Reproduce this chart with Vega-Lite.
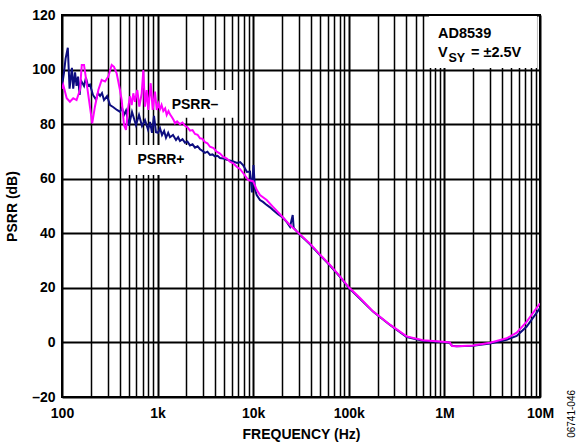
{
  "$schema": "https://vega.github.io/schema/vega-lite/v6.json",
  "width": 478,
  "height": 382,
  "autosize": {"type": "none"},
  "padding": {"left": 62, "top": 15, "right": 38, "bottom": 47},
  "background": "white",
  "config": {
    "font": "Liberation Sans",
    "view": {"stroke": "black", "strokeWidth": 2},
    "axis": {
      "labelFont": "Liberation Sans",
      "labelFontWeight": "bold",
      "labelFontSize": 14,
      "labelColor": "black",
      "titleFont": "Liberation Sans",
      "titleFontWeight": "bold",
      "titleFontSize": 14,
      "titleColor": "black",
      "domain": false,
      "ticks": false,
      "tickSize": 0,
      "gridColor": "black",
      "gridOpacity": 1
    }
  },
  "datasets": {
    "psrr": [
      {"series": "PSRR+", "f": 100, "db": 94},
      {"series": "PSRR+", "f": 105, "db": 99},
      {"series": "PSRR+", "f": 109, "db": 104},
      {"series": "PSRR+", "f": 115, "db": 108},
      {"series": "PSRR+", "f": 120, "db": 93},
      {"series": "PSRR+", "f": 127, "db": 100.6},
      {"series": "PSRR+", "f": 131, "db": 93},
      {"series": "PSRR+", "f": 137, "db": 99},
      {"series": "PSRR+", "f": 142, "db": 94},
      {"series": "PSRR+", "f": 147, "db": 97.4},
      {"series": "PSRR+", "f": 153, "db": 90.7},
      {"series": "PSRR+", "f": 158, "db": 96},
      {"series": "PSRR+", "f": 170, "db": 94},
      {"series": "PSRR+", "f": 178, "db": 97},
      {"series": "PSRR+", "f": 187, "db": 94},
      {"series": "PSRR+", "f": 196, "db": 94.5},
      {"series": "PSRR+", "f": 211, "db": 90.7},
      {"series": "PSRR+", "f": 227, "db": 89},
      {"series": "PSRR+", "f": 238, "db": 91.4},
      {"series": "PSRR+", "f": 250, "db": 90.3},
      {"series": "PSRR+", "f": 262, "db": 91.4},
      {"series": "PSRR+", "f": 275, "db": 88.8},
      {"series": "PSRR+", "f": 296, "db": 90.3},
      {"series": "PSRR+", "f": 318, "db": 87},
      {"series": "PSRR+", "f": 342, "db": 86.3},
      {"series": "PSRR+", "f": 376, "db": 85.2},
      {"series": "PSRR+", "f": 404, "db": 84.5},
      {"series": "PSRR+", "f": 424, "db": 86},
      {"series": "PSRR+", "f": 445, "db": 83.4},
      {"series": "PSRR+", "f": 467, "db": 85},
      {"series": "PSRR+", "f": 502, "db": 79.5},
      {"series": "PSRR+", "f": 540, "db": 84.5},
      {"series": "PSRR+", "f": 594, "db": 79.7},
      {"series": "PSRR+", "f": 639, "db": 83.4},
      {"series": "PSRR+", "f": 687, "db": 79.3},
      {"series": "PSRR+", "f": 738, "db": 81.5},
      {"series": "PSRR+", "f": 794, "db": 78},
      {"series": "PSRR+", "f": 833, "db": 80.8},
      {"series": "PSRR+", "f": 874, "db": 76.8},
      {"series": "PSRR+", "f": 917, "db": 83},
      {"series": "PSRR+", "f": 962, "db": 77},
      {"series": "PSRR+", "f": 1010, "db": 76.8},
      {"series": "PSRR+", "f": 1060, "db": 78.5},
      {"series": "PSRR+", "f": 1112, "db": 76},
      {"series": "PSRR+", "f": 1170, "db": 77.5},
      {"series": "PSRR+", "f": 1224, "db": 75},
      {"series": "PSRR+", "f": 1290, "db": 76.8},
      {"series": "PSRR+", "f": 1348, "db": 75.2},
      {"series": "PSRR+", "f": 1449, "db": 76},
      {"series": "PSRR+", "f": 1558, "db": 74.2},
      {"series": "PSRR+", "f": 1640, "db": 75.2},
      {"series": "PSRR+", "f": 1715, "db": 73.8},
      {"series": "PSRR+", "f": 1820, "db": 74.5},
      {"series": "PSRR+", "f": 1934, "db": 73.2},
      {"series": "PSRR+", "f": 2050, "db": 73.6},
      {"series": "PSRR+", "f": 2183, "db": 72.2},
      {"series": "PSRR+", "f": 2320, "db": 72.6},
      {"series": "PSRR+", "f": 2462, "db": 71.4},
      {"series": "PSRR+", "f": 2620, "db": 71.9},
      {"series": "PSRR+", "f": 2777, "db": 70.8},
      {"series": "PSRR+", "f": 2950, "db": 70.2},
      {"series": "PSRR+", "f": 3132, "db": 69.5},
      {"series": "PSRR+", "f": 3320, "db": 69.9},
      {"series": "PSRR+", "f": 3533, "db": 68.7},
      {"series": "PSRR+", "f": 3750, "db": 68.9},
      {"series": "PSRR+", "f": 3986, "db": 68.2},
      {"series": "PSRR+", "f": 4240, "db": 68.4},
      {"series": "PSRR+", "f": 4496, "db": 67.6},
      {"series": "PSRR+", "f": 4900, "db": 67.4},
      {"series": "PSRR+", "f": 5320, "db": 66.9},
      {"series": "PSRR+", "f": 6000, "db": 66.5},
      {"series": "PSRR+", "f": 6770, "db": 65.8},
      {"series": "PSRR+", "f": 7300, "db": 66.1},
      {"series": "PSRR+", "f": 7823, "db": 65},
      {"series": "PSRR+", "f": 8612, "db": 62.5},
      {"series": "PSRR+", "f": 9258, "db": 62.6},
      {"series": "PSRR+", "f": 9714, "db": 55},
      {"series": "PSRR+", "f": 10070, "db": 65},
      {"series": "PSRR+", "f": 10440, "db": 56},
      {"series": "PSRR+", "f": 10880, "db": 54},
      {"series": "PSRR+", "f": 11780, "db": 52.2},
      {"series": "PSRR+", "f": 12660, "db": 51.5},
      {"series": "PSRR+", "f": 13840, "db": 50.4},
      {"series": "PSRR+", "f": 14990, "db": 49.5},
      {"series": "PSRR+", "f": 16110, "db": 48.5},
      {"series": "PSRR+", "f": 18170, "db": 47},
      {"series": "PSRR+", "f": 20650, "db": 45.6},
      {"series": "PSRR+", "f": 22570, "db": 44},
      {"series": "PSRR+", "f": 24260, "db": 42.4},
      {"series": "PSRR+", "f": 25900, "db": 46.7},
      {"series": "PSRR+", "f": 26520, "db": 42},
      {"series": "PSRR+", "f": 30870, "db": 39.4},
      {"series": "PSRR+", "f": 39280, "db": 36},
      {"series": "PSRR+", "f": 49960, "db": 32},
      {"series": "PSRR+", "f": 63580, "db": 28.2},
      {"series": "PSRR+", "f": 80900, "db": 24},
      {"series": "PSRR+", "f": 100000, "db": 20},
      {"series": "PSRR+", "f": 131000, "db": 16},
      {"series": "PSRR+", "f": 179100, "db": 11.3},
      {"series": "PSRR+", "f": 269800, "db": 6.4},
      {"series": "PSRR+", "f": 403300, "db": 2},
      {"series": "PSRR+", "f": 597300, "db": 0.6},
      {"series": "PSRR+", "f": 899500, "db": 0.2},
      {"series": "PSRR+", "f": 1091000, "db": 0},
      {"series": "PSRR+", "f": 1144000, "db": -0.3},
      {"series": "PSRR+", "f": 1200000, "db": -1.2},
      {"series": "PSRR+", "f": 1345000, "db": -1.4},
      {"series": "PSRR+", "f": 1992000, "db": -1.2},
      {"series": "PSRR+", "f": 2999000, "db": -0.4},
      {"series": "PSRR+", "f": 4484000, "db": 1},
      {"series": "PSRR+", "f": 5705000, "db": 2.4},
      {"series": "PSRR+", "f": 7260000, "db": 5.8},
      {"series": "PSRR+", "f": 10000000, "db": 12.6},

      {"series": "PSRR–", "f": 100, "db": 93},
      {"series": "PSRR–", "f": 103, "db": 94.4},
      {"series": "PSRR–", "f": 112, "db": 89.5},
      {"series": "PSRR–", "f": 121, "db": 88.2},
      {"series": "PSRR–", "f": 131, "db": 89.5},
      {"series": "PSRR–", "f": 142, "db": 88.8},
      {"series": "PSRR–", "f": 154, "db": 92.5},
      {"series": "PSRR–", "f": 161, "db": 101.7},
      {"series": "PSRR–", "f": 170, "db": 101.7},
      {"series": "PSRR–", "f": 181, "db": 95},
      {"series": "PSRR–", "f": 196, "db": 86.4},
      {"series": "PSRR–", "f": 207, "db": 80.3},
      {"series": "PSRR–", "f": 221, "db": 86.4},
      {"series": "PSRR–", "f": 240, "db": 92.5},
      {"series": "PSRR–", "f": 260, "db": 96.2},
      {"series": "PSRR–", "f": 282, "db": 95.6},
      {"series": "PSRR–", "f": 305, "db": 97.4},
      {"series": "PSRR–", "f": 331, "db": 101.7},
      {"series": "PSRR–", "f": 350, "db": 101},
      {"series": "PSRR–", "f": 373, "db": 98.6},
      {"series": "PSRR–", "f": 404, "db": 92.5},
      {"series": "PSRR–", "f": 421, "db": 88.8},
      {"series": "PSRR–", "f": 445, "db": 79.7},
      {"series": "PSRR–", "f": 467, "db": 77.9},
      {"series": "PSRR–", "f": 494, "db": 86.4},
      {"series": "PSRR–", "f": 514, "db": 90.2},
      {"series": "PSRR–", "f": 536, "db": 87},
      {"series": "PSRR–", "f": 557, "db": 91.3},
      {"series": "PSRR–", "f": 580, "db": 88.2},
      {"series": "PSRR–", "f": 613, "db": 92.5},
      {"series": "PSRR–", "f": 644, "db": 86.4},
      {"series": "PSRR–", "f": 682, "db": 91.3},
      {"series": "PSRR–", "f": 709, "db": 99.8},
      {"series": "PSRR–", "f": 738, "db": 86.4},
      {"series": "PSRR–", "f": 769, "db": 92.5},
      {"series": "PSRR–", "f": 799, "db": 85.2},
      {"series": "PSRR–", "f": 847, "db": 95},
      {"series": "PSRR–", "f": 889, "db": 85.2},
      {"series": "PSRR–", "f": 939, "db": 91.9},
      {"series": "PSRR–", "f": 979, "db": 85.2},
      {"series": "PSRR–", "f": 1020, "db": 87.5},
      {"series": "PSRR–", "f": 1060, "db": 85.5},
      {"series": "PSRR–", "f": 1100, "db": 87},
      {"series": "PSRR–", "f": 1147, "db": 84.8},
      {"series": "PSRR–", "f": 1200, "db": 85.8},
      {"series": "PSRR–", "f": 1245, "db": 83.4},
      {"series": "PSRR–", "f": 1300, "db": 84.8},
      {"series": "PSRR–", "f": 1348, "db": 83.6},
      {"series": "PSRR–", "f": 1414, "db": 82.5},
      {"series": "PSRR–", "f": 1470, "db": 81.5},
      {"series": "PSRR–", "f": 1522, "db": 80.3},
      {"series": "PSRR–", "f": 1600, "db": 81},
      {"series": "PSRR–", "f": 1715, "db": 80},
      {"series": "PSRR–", "f": 1820, "db": 80.6},
      {"series": "PSRR–", "f": 1934, "db": 79.4},
      {"series": "PSRR–", "f": 2050, "db": 78.9},
      {"series": "PSRR–", "f": 2183, "db": 77.6},
      {"series": "PSRR–", "f": 2320, "db": 77.8},
      {"series": "PSRR–", "f": 2462, "db": 76.4},
      {"series": "PSRR–", "f": 2620, "db": 76.1},
      {"series": "PSRR–", "f": 2777, "db": 74.8},
      {"series": "PSRR–", "f": 2950, "db": 74.6},
      {"series": "PSRR–", "f": 3132, "db": 73.4},
      {"series": "PSRR–", "f": 3320, "db": 73},
      {"series": "PSRR–", "f": 3533, "db": 71.7},
      {"series": "PSRR–", "f": 3850, "db": 71.2},
      {"series": "PSRR–", "f": 4151, "db": 69.9},
      {"series": "PSRR–", "f": 4500, "db": 69.2},
      {"series": "PSRR–", "f": 4866, "db": 68},
      {"series": "PSRR–", "f": 5300, "db": 67.4},
      {"series": "PSRR–", "f": 5718, "db": 66.2},
      {"series": "PSRR–", "f": 6200, "db": 65.6},
      {"series": "PSRR–", "f": 6721, "db": 64.4},
      {"series": "PSRR–", "f": 7300, "db": 63.5},
      {"series": "PSRR–", "f": 7877, "db": 62},
      {"series": "PSRR–", "f": 8886, "db": 59.5},
      {"series": "PSRR–", "f": 10020, "db": 59},
      {"series": "PSRR–", "f": 10880, "db": 55.9},
      {"series": "PSRR–", "f": 11780, "db": 54},
      {"series": "PSRR–", "f": 13840, "db": 52.2},
      {"series": "PSRR–", "f": 16110, "db": 49.7},
      {"series": "PSRR–", "f": 19070, "db": 47},
      {"series": "PSRR–", "f": 24260, "db": 43},
      {"series": "PSRR–", "f": 30870, "db": 39.6},
      {"series": "PSRR–", "f": 39280, "db": 36.2},
      {"series": "PSRR–", "f": 49960, "db": 32.2},
      {"series": "PSRR–", "f": 63580, "db": 28.4},
      {"series": "PSRR–", "f": 80900, "db": 24.2},
      {"series": "PSRR–", "f": 100000, "db": 20.2},
      {"series": "PSRR–", "f": 131000, "db": 16.3},
      {"series": "PSRR–", "f": 179100, "db": 11.4},
      {"series": "PSRR–", "f": 269800, "db": 6.5},
      {"series": "PSRR–", "f": 403300, "db": 2.2},
      {"series": "PSRR–", "f": 597300, "db": 0.8},
      {"series": "PSRR–", "f": 899500, "db": 0.3},
      {"series": "PSRR–", "f": 1091000, "db": 0.1},
      {"series": "PSRR–", "f": 1144000, "db": 0},
      {"series": "PSRR–", "f": 1200000, "db": -1.3},
      {"series": "PSRR–", "f": 1345000, "db": -1.4},
      {"series": "PSRR–", "f": 1992000, "db": -1.1},
      {"series": "PSRR–", "f": 2999000, "db": -0.1},
      {"series": "PSRR–", "f": 4484000, "db": 1.5},
      {"series": "PSRR–", "f": 5705000, "db": 3.6},
      {"series": "PSRR–", "f": 7260000, "db": 7.6},
      {"series": "PSRR–", "f": 10000000, "db": 14.3}
    ],
    "one": [{"k": 1}]
  },
  "layer": [
    {
      "data": {"name": "psrr"},
      "transform": [{"filter": "datum.series == 'PSRR+'"}],
      "mark": {"type": "line", "color": "#0d0d80", "strokeWidth": 2, "strokeOpacity": 0, "clip": true},
      "encoding": {
        "x": {
          "field": "f",
          "type": "quantitative",
          "scale": {"type": "log", "domain": [100, 10000000], "nice": false},
          "axis": {
            "title": "FREQUENCY (Hz)",
            "titleBaseline": "alphabetic",
            "titleY": 41,
            "values": [100,200,300,400,500,600,700,800,900,1000,2000,3000,4000,5000,6000,7000,8000,9000,10000,20000,30000,40000,50000,60000,70000,80000,90000,100000,200000,300000,400000,500000,600000,700000,800000,900000,1000000,2000000,3000000,4000000,5000000,6000000,7000000,8000000,9000000,10000000],
            "labelExpr": "datum.value==100?'100':datum.value==1000?'1k':datum.value==10000?'10k':datum.value==100000?'100k':datum.value==1000000?'1M':datum.value==10000000?'10M':''",
            "labelOverlap": false,
            "labelBound": false,
            "labelFlush": false,
            "labelBaseline": "alphabetic",
            "labelPadding": 20.5,
            "grid": true,
            "gridWidth": {"condition": {"test": "indexof([100,1000,10000,100000,1000000,10000000], datum.value) >= 0", "value": 2}, "value": 1.5}
          }
        },
        "y": {
          "field": "db",
          "type": "quantitative",
          "scale": {"domain": [-20, 120], "nice": false, "zero": false},
          "axis": {
            "title": "PSRR (dB)",
            "titleX": -50,
            "titleY": 191,
            "titleAlign": "center",
            "titleBaseline": "middle",
            "titleAngle": 270,
            "values": [-20, 0, 20, 40, 60, 80, 100, 120],
            "labelExpr": "datum.value < 0 ? '\u2013' + abs(datum.value) : '' + datum.value",
            "labelPadding": 7,
            "labelBaseline": "middle",
            "grid": true,
            "gridWidth": 2
          }
        }
      }
    },
    {
      "data": {"name": "one"},
      "mark": {"type": "rect", "fill": "white"},
      "encoding": {
        "x": {"datum": 690000, "type": "quantitative"},
        "x2": {"datum": 9300000},
        "y": {"datum": 119.6, "type": "quantitative"},
        "y2": {"datum": 100.6}
      }
    },
    {
      "data": {"name": "one"},
      "mark": {"type": "rect", "fill": "white"},
      "encoding": {
        "x": {"datum": 1195, "type": "quantitative"},
        "x2": {"datum": 6449},
        "y": {"datum": 92.5, "type": "quantitative"},
        "y2": {"datum": 82.3}
      }
    },
    {
      "data": {"name": "one"},
      "mark": {"type": "rect", "fill": "white"},
      "encoding": {
        "x": {"datum": 424, "type": "quantitative"},
        "x2": {"datum": 2777},
        "y": {"datum": 72.4, "type": "quantitative"},
        "y2": {"datum": 61.4}
      }
    },
    {
      "data": {"name": "psrr"},
      "transform": [{"filter": "datum.series == 'PSRR+'"}],
      "mark": {"type": "line", "color": "#0d0d80", "strokeWidth": 2, "clip": true},
      "encoding": {
        "x": {"field": "f", "type": "quantitative"},
        "y": {"field": "db", "type": "quantitative"}
      }
    },
    {
      "data": {"name": "psrr"},
      "transform": [{"filter": "datum.series == 'PSRR–'"}],
      "mark": {"type": "line", "color": "#ff00ff", "strokeWidth": 2, "clip": true},
      "encoding": {
        "x": {"field": "f", "type": "quantitative"},
        "y": {"field": "db", "type": "quantitative"}
      }
    },
    {
      "data": {"name": "one"},
      "mark": {"type": "text", "text": "PSRR–", "font": "Liberation Sans", "fontWeight": "bold", "fontSize": 14, "align": "center", "baseline": "middle", "color": "black"},
      "encoding": {"x": {"datum": 2460, "type": "quantitative"}, "y": {"datum": 87, "type": "quantitative"}}
    },
    {
      "data": {"name": "one"},
      "mark": {"type": "text", "text": "PSRR+", "font": "Liberation Sans", "fontWeight": "bold", "fontSize": 14, "align": "center", "baseline": "middle", "color": "black"},
      "encoding": {"x": {"datum": 1085, "type": "quantitative"}, "y": {"datum": 66.9, "type": "quantitative"}}
    },
    {
      "data": {"name": "one"},
      "mark": {"type": "text", "text": "AD8539", "font": "Liberation Sans", "fontWeight": "bold", "fontSize": 14.5, "align": "left", "baseline": "alphabetic", "color": "black"},
      "encoding": {"x": {"datum": 857000, "type": "quantitative"}, "y": {"datum": 111.5, "type": "quantitative"}}
    },
    {
      "data": {"name": "one"},
      "mark": {"type": "text", "text": "V", "font": "Liberation Sans", "fontWeight": "bold", "fontSize": 14.5, "align": "left", "baseline": "alphabetic", "color": "black"},
      "encoding": {"x": {"datum": 857000, "type": "quantitative"}, "y": {"datum": 104.7, "type": "quantitative"}}
    },
    {
      "data": {"name": "one"},
      "mark": {"type": "text", "text": "SY", "font": "Liberation Sans", "fontWeight": "bold", "fontSize": 12.5, "align": "left", "baseline": "alphabetic", "color": "black"},
      "encoding": {"x": {"datum": 1104000, "type": "quantitative"}, "y": {"datum": 102.9, "type": "quantitative"}}
    },
    {
      "data": {"name": "one"},
      "mark": {"type": "text", "text": "= ±2.5V", "font": "Liberation Sans", "fontWeight": "bold", "fontSize": 14.5, "align": "left", "baseline": "alphabetic", "color": "black"},
      "encoding": {"x": {"datum": 1898000, "type": "quantitative"}, "y": {"datum": 104.7, "type": "quantitative"}}
    },
    {
      "data": {"name": "one"},
      "mark": {"type": "text", "text": "06741-046", "font": "Liberation Sans", "fontSize": 10, "angle": 270, "align": "center", "baseline": "middle", "color": "black"},
      "encoding": {"x": {"datum": 21600000, "type": "quantitative"}, "y": {"datum": -26.2, "type": "quantitative"}}
    }
  ]
}
